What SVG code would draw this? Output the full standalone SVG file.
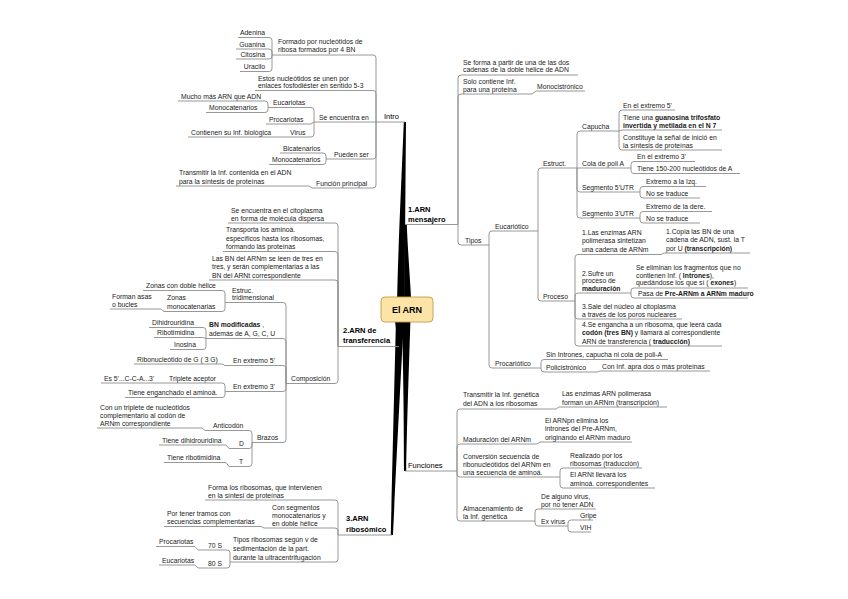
<svg xmlns="http://www.w3.org/2000/svg" width="848" height="599" viewBox="0 0 848 599">
<style>
.t{font-family:"Liberation Sans",Arial,sans-serif;font-size:6.8px;fill:#1a1a1a}
.b{font-weight:bold}
.m{font-family:"Liberation Sans",Arial,sans-serif;font-size:7.5px;fill:#000}
.u{stroke:#8c8c8c;stroke-width:0.9;fill:none}
.c{stroke:#8c8c8c;stroke-width:0.9;fill:none}
.br{fill:#000}
</style>
<rect width="848" height="599" fill="#fff"/>
<g id="connectors">
<g id="branches">
<path class="br" d="M397,305 C398,250 401.5,180 403.8,122 L406,122 C405.5,180 405,250 404.5,305 Z"/>
<path class="br" d="M404,305 C404.5,270 404.5,245 404.6,224.5 L406.8,224.5 C407.5,245 409.5,270 411.5,305 Z"/>
<path class="br" d="M394,315 C396.5,330 397.5,340 397.8,346.5 L400,346.5 C400.5,340 401.5,330 402,315 Z"/>
<path class="br" d="M396,318 C394,400 392,480 390.8,535 L393,535 C395.5,480 399.5,400 404,318 Z"/>
<path class="br" d="M402,318 C403.5,380 404,430 404,471 L406.2,471 C406.8,430 408.5,380 410.5,318 Z"/>
</g>
<path class="c" d="M458,224.5 V78 Q458,75 461,75 M458,224.5 V97 Q458,94 461,94 M458,224.5 V242 Q458,245 461,245 M532,94 L536,91"/>
<path class="c" d="M489,245 V234 Q489,231 492,231 M489,245 V365 Q489,368 492,368"/>
<path class="c" d="M538,231 V171 Q538,168 541,168 M538,231 V298 Q538,301 541,301"/>
<path class="c" d="M577,168 V134 Q577,131 580,131 M577,168 L580,168 M577,168 V189 Q577,192 580,192 M577,168 V215 Q577,218 580,218"/>
<path class="c" d="M619,131 V113 Q619,110 622,110 M619,131 L622,130 M619,131 V147 Q619,150 622,150"/>
<path class="c" d="M631,168 V164.5 Q631,161.5 634,161.5 M631,168 V170.5 Q631,173.5 634,173.5"/>
<path class="c" d="M640,192 V189.5 Q640,186.5 643,186.5 M640,192 V195 Q640,198 643,198"/>
<path class="c" d="M640,218 V214.5 Q640,211.5 643,211.5 M640,218 V220 Q640,223 643,223"/>
<path class="c" d="M575,301 V257.5 Q575,254.5 578,254.5 M575,301 V296 Q575,293 578,293 M575,301 V316 Q575,319 578,319 M575,301 V343 Q575,346 578,346"/>
<path class="c" d="M661,254.5 L664,253"/>
<path class="c" d="M631,293 V291 Q631,288 634,288 M631,293 V295 Q631,298 634,298"/>
<path class="c" d="M541,368 V362.5 Q541,359.5 544,359.5 M541,368 V369 Q541,372 544,372 M597,372 L600,371"/>
<path class="c" d="M457,471 V412 Q457,409 460,409 M457,471 V447 Q457,444 460,444 M457,471 V474 Q457,477 460,477 M457,471 V518 Q457,521 460,521"/>
<path class="c" d="M556,409 L559,407 M537,444 L540,442"/>
<path class="c" d="M560,477 V471 Q560,468 563,468 M560,477 V485 Q560,488 563,488"/>
<path class="c" d="M535,521 V512 Q535,509 538,509 M535,521 V523 Q535,526 538,526"/>
<path class="c" d="M568,526 V523 Q568,520 571,520 M568,526 V529 Q568,532 571,532"/>
<path class="c" d="M376,122 V58 Q376,55 373,55 M376,122 V93.5 Q376,90.5 373,90.5 M376,122 L373,122 M376,122 V156 Q376,159 373,159 M376,122 V185 Q376,188 373,188"/>
<path class="c" d="M272,55 V40.5 Q272,37.5 269,37.5 M272,55 V52 Q272,49 269,49 M272,55 V56 Q272,59 269,59 M272,55 V68.5 Q272,71.5 269,71.5"/>
<path class="c" d="M314,122 V110.5 Q314,107.5 311,107.5 M314,122 L311,124 M314,122 V134 Q314,137 311,137"/>
<path class="c" d="M268,107.5 V104 Q268,101 265,101 M268,107.5 V109.5 Q268,112.5 265,112.5"/>
<path class="c" d="M326,159 V156 Q326,153 323,153 M326,159 V161.5 Q326,164.5 323,164.5 M312,188 L309,186"/>
<path class="c" d="M338,346.5 V226 Q338,223 335,223 M338,346.5 V254.5 Q338,251.5 335,251.5 M338,346.5 V283 Q338,280 335,280 M338,346.5 V380.5 Q338,383.5 335,383.5"/>
<path class="c" d="M286,383.5 V305.5 Q286,302.5 283,302.5 M286,383.5 V341.5 Q286,338.5 283,338.5 M286,383.5 V368.5 Q286,365.5 283,365.5 M286,383.5 V388.5 Q286,391.5 283,391.5 M286,383.5 V439.5 Q286,442.5 283,442.5"/>
<path class="c" d="M225,302.5 V293.5 Q225,290.5 222,290.5 M225,302.5 V308.5 Q225,311.5 222,311.5 M164,311.5 L161,309"/>
<path class="c" d="M206,338.5 V330.5 Q206,327.5 203,327.5 M206,338.5 L203,337.5 M206,338.5 V346.5 Q206,349.5 203,349.5"/>
<path class="c" d="M225,365.5 L222,364 M225,391.5 V386 Q225,383 222,383 M225,391.5 V394.5 Q225,397.5 222,397.5 M162,383 L159,383"/>
<path class="c" d="M252,442.5 V433.5 Q252,430.5 249,430.5 M252,442.5 V445.5 Q252,448.5 249,448.5 M252,442.5 V463.5 Q252,466.5 249,466.5 M205,430.5 L202,428 M229,448.5 L226,445 M229,466.5 L226,462.5"/>
<path class="c" d="M338,535 V503 Q338,500 335,500 M338,535 V531 Q338,528 335,528 M338,535 V559 Q338,562 335,562 M264,528 L261,526.5"/>
<path class="c" d="M230,562 V553 Q230,550 227,550 M230,562 V565 Q230,568 227,568 M198,550 L195,546.5 M198,568 L195,565"/>
</g>

<g id="center">
<rect x="381" y="297" width="52" height="25" rx="4" fill="#fce4a6" stroke="#c59a4a" stroke-width="0.9"/>
<text x="407" y="312.5" text-anchor="middle" style="font-family:'Liberation Sans',Arial,sans-serif;font-size:9px;font-weight:bold;fill:#000">El ARN</text>
</g>

<!-- 1. ARN mensajero -->
<g id="mensajero"><text class="m b"><tspan x="408" y="211.5">1.ARN</tspan><tspan x="408" y="221.5">mensajero</tspan></text><line class="u" x1="405" y1="224.5" x2="458" y2="224.5"/></g>
<g id="seforma"><text class="t"><tspan x="463" y="64.5">Se forma a partir de una de las dos</tspan><tspan x="463" y="72">cadenas de la doble hélice de ADN</tspan></text><line class="u" x1="461" y1="75" x2="578" y2="75"/></g>
<g id="solo"><text class="t"><tspan x="463" y="83.5">Solo contiene Inf.</tspan><tspan x="463" y="91.5">para una proteína</tspan></text><line class="u" x1="461" y1="94" x2="532" y2="94"/></g>
<g id="monocis"><text class="t" x="537" y="89">Monocistrónico</text><line class="u" x1="536" y1="91" x2="585" y2="91"/></g>
<g id="tipos"><text class="t" x="465" y="242.5">Tipos</text><line class="u" x1="461" y1="245" x2="489" y2="245"/></g>
<g id="eucariotico"><text class="t" x="495" y="228.5">Eucariótico</text><line class="u" x1="492" y1="231" x2="538" y2="231"/></g>
<g id="procariotico"><text class="t" x="495" y="365.5">Procariótico</text><line class="u" x1="492" y1="368" x2="541" y2="368"/></g>
<g id="estruct"><text class="t" x="543" y="165.5">Estruct.</text><line class="u" x1="541" y1="168" x2="577" y2="168"/></g>
<g id="proceso"><text class="t" x="543" y="298.5">Proceso</text><line class="u" x1="541" y1="301" x2="575" y2="301"/></g>
<g id="capucha"><text class="t" x="582" y="128.5">Capucha</text><line class="u" x1="580" y1="131" x2="619" y2="131"/></g>
<g id="cola"><text class="t" x="582" y="166">Cola de poli A</text><line class="u" x1="580" y1="168" x2="631" y2="168"/></g>
<g id="seg5"><text class="t" x="582" y="189.5">Segmento 5'UTR</text><line class="u" x1="580" y1="192" x2="640" y2="192"/></g>
<g id="seg3"><text class="t" x="582" y="215.5">Segmento 3'UTR</text><line class="u" x1="580" y1="218" x2="640" y2="218"/></g>
<g id="ext5"><text class="t" x="623" y="107.5">En el extremo 5'</text><line class="u" x1="622" y1="110" x2="675" y2="110"/></g>
<g id="guanosina"><text class="t"><tspan x="623" y="119.5">Tiene una <tspan class="b">guanosina trifosfato</tspan></tspan><tspan x="623" y="127.5" class="b">invertida y metilada en el N 7</tspan></text><line class="u" x1="622" y1="130" x2="722" y2="130"/></g>
<g id="senal"><text class="t"><tspan x="623" y="139.5">Constituye la señal de inició en</tspan><tspan x="623" y="147.5">la síntesis de proteínas</tspan></text><line class="u" x1="622" y1="150" x2="722" y2="150"/></g>
<g id="ext3"><text class="t" x="637" y="159">En el extremo 3'</text><line class="u" x1="634" y1="161.5" x2="695" y2="161.5"/></g>
<g id="tiene150"><text class="t" x="637" y="171">Tiene 150-200 nucleótidos de A</text><line class="u" x1="634" y1="173.5" x2="740" y2="173.5"/></g>
<g id="izq"><text class="t" x="646" y="184">Extremo a la Izq.</text><line class="u" x1="643" y1="186.5" x2="706" y2="186.5"/></g>
<g id="notrad1"><text class="t" x="646" y="195.5">No se traduce</text><line class="u" x1="643" y1="198" x2="700" y2="198"/></g>
<g id="dere"><text class="t" x="646" y="209">Extremo de la dere.</text><line class="u" x1="643" y1="211.5" x2="712" y2="211.5"/></g>
<g id="notrad2"><text class="t" x="646" y="220.5">No se traduce</text><line class="u" x1="643" y1="223" x2="700" y2="223"/></g>
<g id="p1"><text class="t"><tspan x="582" y="234.5">1.Las enzimas ARN</tspan><tspan x="582" y="243">polimerasa sintetizan</tspan><tspan x="582" y="251.5">una cadena de ARNm</tspan></text><line class="u" x1="578" y1="254.5" x2="661" y2="254.5"/></g>
<g id="copia"><text class="t"><tspan x="666" y="233.5">1.Copia las BN de una</tspan><tspan x="666" y="242">cadena de ADN, sust. la T</tspan><tspan x="666" y="250.5">por U <tspan class="b">(transcripción)</tspan></tspan></text><line class="u" x1="664" y1="253" x2="750" y2="253"/></g>
<g id="p2"><text class="t"><tspan x="582" y="275.5">2.Sufre un</tspan><tspan x="582" y="283">proceso de</tspan><tspan x="582" y="290.5" class="b">maduración</tspan></text><line class="u" x1="578" y1="293" x2="631" y2="293"/></g>
<g id="eliminan"><text class="t"><tspan x="636" y="270">Se eliminan los fragmentos que no</tspan><tspan x="636" y="277.5">contienen Inf. ( <tspan class="b">Intrones</tspan>),</tspan><tspan x="636" y="285">quedándose los que sí ( <tspan class="b">exones</tspan>)</tspan></text><line class="u" x1="634" y1="288" x2="748" y2="288"/></g>
<g id="pasa"><text class="t" x="638" y="295.5">Pasa de <tspan class="b">Pre-ARNm a ARNm maduro</tspan></text><line class="u" x1="634" y1="298" x2="748" y2="298"/></g>
<g id="p3"><text class="t"><tspan x="582" y="308.5">3.Sale del núcleo al citoplasma</tspan><tspan x="582" y="316.5">a través de los poros nucleares</tspan></text><line class="u" x1="578" y1="319" x2="682" y2="319"/></g>
<g id="p4"><text class="t"><tspan x="582" y="327">4.Se engancha a un ribosoma, que leerá cada</tspan><tspan x="582" y="335" ><tspan class="b">codón (tres BN)</tspan> y llamará al correspondiente</tspan><tspan x="582" y="343.5">ARN de transferencia ( <tspan class="b">traducción)</tspan></tspan></text><line class="u" x1="578" y1="346" x2="722" y2="346"/></g>
<g id="sinintrones"><text class="t" x="546" y="357">Sin Intrones, capucha ni cola de poli-A</text><line class="u" x1="544" y1="359.5" x2="668" y2="359.5"/></g>
<g id="policis"><text class="t" x="546" y="369.5">Policistrónico</text><line class="u" x1="544" y1="372" x2="597" y2="372"/></g>
<g id="coninf"><text class="t" x="602" y="368.5">Con Inf. apra dos o más proteínas</text><line class="u" x1="600" y1="371" x2="710" y2="371"/></g>

<!-- Funciones -->
<g id="funciones"><text class="m" x="408" y="468">Funciones</text><line class="u" x1="405" y1="471" x2="457" y2="471"/></g>
<g id="f1"><text class="t"><tspan x="463" y="397">Transmitir la Inf. genética</tspan><tspan x="463" y="406">del ADN a los ribosomas</tspan></text><line class="u" x1="460" y1="409" x2="556" y2="409"/></g>
<g id="f2"><text class="t"><tspan x="562" y="395.5">Las enzimas ARN polimerasa</tspan><tspan x="562" y="404.5">forman un ARNm (transcripción)</tspan></text><line class="u" x1="559" y1="407" x2="667" y2="407"/></g>
<g id="f3"><text class="t" x="463" y="441.5">Maduración del ARNm</text><line class="u" x1="460" y1="444" x2="537" y2="444"/></g>
<g id="f4"><text class="t"><tspan x="545" y="422.5">El ARNpn elimina los</tspan><tspan x="545" y="431">intrones del Pre-ARNm,</tspan><tspan x="545" y="439.5">originando el ARNm maduro</tspan></text><line class="u" x1="540" y1="442" x2="632" y2="442"/></g>
<g id="f5"><text class="t"><tspan x="463" y="458.5">Conversión secuencia de</tspan><tspan x="463" y="466.5">ribonucleótidos del ARNm en</tspan><tspan x="463" y="474.5">una secuencia de aminoá.</tspan></text><line class="u" x1="460" y1="477" x2="560" y2="477"/></g>
<g id="f6"><text class="t"><tspan x="570" y="457.5">Realizado por los</tspan><tspan x="570" y="465.5">ribosomas (traducción)</tspan></text><line class="u" x1="563" y1="468" x2="642" y2="468"/></g>
<g id="f7"><text class="t"><tspan x="570" y="477">El ARNt llevará los</tspan><tspan x="570" y="485.5">aminoá. correspondientes</tspan></text><line class="u" x1="563" y1="488" x2="655" y2="488"/></g>
<g id="f8"><text class="t"><tspan x="463" y="510.5">Almacenamiento de</tspan><tspan x="463" y="518.5">la Inf. genética</tspan></text><line class="u" x1="460" y1="521" x2="535" y2="521"/></g>
<g id="f9"><text class="t"><tspan x="541" y="499">De alguno virus,</tspan><tspan x="541" y="506.5">por no tener ADN</tspan></text><line class="u" x1="538" y1="509" x2="596" y2="509"/></g>
<g id="f10"><text class="t" x="541" y="523.5">Ex virus</text><line class="u" x1="538" y1="526" x2="568" y2="526"/></g>
<g id="f11"><text class="t" x="580" y="518">Gripe</text><line class="u" x1="571" y1="520" x2="593" y2="520"/></g>
<g id="f12"><text class="t" x="580" y="530">VIH</text><line class="u" x1="571" y1="532" x2="591" y2="532"/></g>

<!-- Intro -->
<g id="intro"><text class="m" x="384" y="118.5">Intro</text><line class="u" x1="376" y1="122" x2="405" y2="122"/></g>
<g id="formado"><text class="t"><tspan x="278" y="44">Formado por nucleótidos de</tspan><tspan x="278" y="52">ribosa formados por 4 BN</tspan></text><line class="u" x1="272" y1="55" x2="373" y2="55"/></g>
<g id="adenina"><text class="t" x="265" y="35" text-anchor="end">Adenina</text><line class="u" x1="238" y1="37.5" x2="269" y2="37.5"/></g>
<g id="guanina"><text class="t" x="265" y="46.5" text-anchor="end">Guanina</text><line class="u" x1="236" y1="49" x2="269" y2="49"/></g>
<g id="citosina"><text class="t" x="265" y="56.5" text-anchor="end">Citosina</text><line class="u" x1="236" y1="59" x2="269" y2="59"/></g>
<g id="uracilo"><text class="t" x="265" y="69" text-anchor="end">Uracilo</text><line class="u" x1="240" y1="71.5" x2="269" y2="71.5"/></g>
<g id="estos"><text class="t"><tspan x="258" y="80.5">Estos nucleótidos se unen por</tspan><tspan x="258" y="88">enlaces fosfodiéster en sentido 5-3</tspan></text><line class="u" x1="255" y1="90.5" x2="373" y2="90.5"/></g>
<g id="seencuentra"><text class="t" x="319" y="120">Se encuentra en</text><line class="u" x1="314" y1="122" x2="373" y2="122"/></g>
<g id="eucariotas"><text class="t" x="273" y="105">Eucariotas</text><line class="u" x1="268" y1="107.5" x2="311" y2="107.5"/></g>
<g id="mucho"><text class="t" x="181" y="98.5">Mucho más ARN que ADN</text><line class="u" x1="178" y1="101" x2="265" y2="101"/></g>
<g id="monocat1"><text class="t" x="209" y="110">Monocatenarios</text><line class="u" x1="206" y1="112.5" x2="265" y2="112.5"/></g>
<g id="procariotas"><text class="t" x="269" y="121.5">Procariotas</text><line class="u" x1="266" y1="124" x2="311" y2="124"/></g>
<g id="virus"><text class="t" x="290" y="134.5">Virus</text><line class="u" x1="276" y1="137" x2="311" y2="137"/></g>
<g id="contienen"><text class="t" x="191" y="134.5">Contienen su Inf. biológica</text><line class="u" x1="188" y1="137" x2="276" y2="137"/></g>
<g id="pueden"><text class="t" x="334" y="156.5">Pueden ser</text><line class="u" x1="326" y1="159" x2="373" y2="159"/></g>
<g id="bicat"><text class="t" x="283" y="150.5">Bicatenarios</text><line class="u" x1="280" y1="153" x2="323" y2="153"/></g>
<g id="monocat2"><text class="t" x="272" y="162">Monocatenarios</text><line class="u" x1="269" y1="164.5" x2="323" y2="164.5"/></g>
<g id="funcion"><text class="t" x="316" y="185.5">Función principal</text><line class="u" x1="312" y1="188" x2="373" y2="188"/></g>
<g id="transmitir"><text class="t"><tspan x="179" y="175">Transmitir la Inf. contenida en el ADN</tspan><tspan x="179" y="183.5">para la síntesis de proteínas</tspan></text><line class="u" x1="176" y1="186" x2="309" y2="186"/></g>

<!-- 2. ARN de transferencia -->
<g id="transferencia"><text class="m b"><tspan x="343" y="332.5">2.ARN de</tspan><tspan x="343" y="343">transferencia</tspan></text><line class="u" x1="338" y1="346.5" x2="399" y2="346.5"/></g>
<g id="t1"><text class="t"><tspan x="231" y="212.5">Se encuentra en el citoplasma</tspan><tspan x="231" y="220.5">en forma de molécula dispersa</tspan></text><line class="u" x1="228" y1="223" x2="335" y2="223"/></g>
<g id="t2"><text class="t"><tspan x="226" y="231.5">Transporta los aminoá.</tspan><tspan x="226" y="240.5">específicos hasta los ribosomas,</tspan><tspan x="226" y="249">formando las proteínas</tspan></text><line class="u" x1="223" y1="251.5" x2="335" y2="251.5"/></g>
<g id="t3"><text class="t"><tspan x="212" y="260.5">Las BN del ARNm se leen de tres en</tspan><tspan x="212" y="268.5">tres, y serán complementarias a las</tspan><tspan x="212" y="277.5">BN del ARNt correspondiente</tspan></text><line class="u" x1="209" y1="280" x2="335" y2="280"/></g>
<g id="composicion"><text class="t" x="291" y="381">Composición</text><line class="u" x1="286" y1="383.5" x2="335" y2="383.5"/></g>
<g id="estruc"><text class="t"><tspan x="232" y="292.5">Estruc.</tspan><tspan x="232" y="300">tridimensional</tspan></text><line class="u" x1="225" y1="302.5" x2="283" y2="302.5"/></g>
<g id="zonasdoble"><text class="t" x="146" y="288">Zonas con doble hélice</text><line class="u" x1="143" y1="290.5" x2="222" y2="290.5"/></g>
<g id="zonasmono"><text class="t"><tspan x="167" y="299.5">Zonas</tspan><tspan x="167" y="309">monocatenarias</tspan></text><line class="u" x1="164" y1="311.5" x2="222" y2="311.5"/></g>
<g id="forman"><text class="t"><tspan x="112" y="298.5">Forman asas</tspan><tspan x="112" y="306.5">o bucles</tspan></text><line class="u" x1="110" y1="309" x2="161" y2="309"/></g>
<g id="bnmod"><text class="t"><tspan x="209" y="327"><tspan class="b">BN modificadas</tspan> ,</tspan><tspan x="209" y="336">además de A, G, C, U</tspan></text><line class="u" x1="206" y1="338.5" x2="283" y2="338.5"/></g>
<g id="dihidro"><text class="t" x="152" y="325">Dihidrouridina</text><line class="u" x1="149" y1="327.5" x2="203" y2="327.5"/></g>
<g id="ribotim"><text class="t" x="157" y="335">Ribotimidina</text><line class="u" x1="154" y1="337.5" x2="203" y2="337.5"/></g>
<g id="inosina"><text class="t" x="174" y="347">Inosina</text><line class="u" x1="170" y1="349.5" x2="203" y2="349.5"/></g>
<g id="ext5p"><text class="t" x="233" y="363">En extremo 5'</text><line class="u" x1="225" y1="365.5" x2="283" y2="365.5"/></g>
<g id="ribonuc"><text class="t" x="137" y="361.5">Ribonucleótido de G ( 3 G)</text><line class="u" x1="134" y1="364" x2="222" y2="364"/></g>
<g id="ext3p"><text class="t" x="233" y="389">En extremo 3'</text><line class="u" x1="225" y1="391.5" x2="283" y2="391.5"/></g>
<g id="triplete"><text class="t" x="169" y="380.5">Triplete aceptor</text><line class="u" x1="162" y1="383" x2="222" y2="383"/></g>
<g id="es5"><text class="t" x="104" y="380.5">Es 5'...C-C-A...3'</text><line class="u" x1="101" y1="383" x2="159" y2="383"/></g>
<g id="enganchado"><text class="t" x="128" y="395">Tiene enganchado el aminoá.</text><line class="u" x1="125" y1="397.5" x2="222" y2="397.5"/></g>
<g id="brazos"><text class="t" x="257" y="440">Brazos</text><line class="u" x1="252" y1="442.5" x2="283" y2="442.5"/></g>
<g id="anticodon"><text class="t" x="213" y="428">Anticodón</text><line class="u" x1="205" y1="430.5" x2="249" y2="430.5"/></g>
<g id="contriplete"><text class="t"><tspan x="100" y="409.5">Con un triplete de nucleótidos</tspan><tspan x="100" y="417.5">complementario al codón de</tspan><tspan x="100" y="425.5">ARNm correspondiente</tspan></text><line class="u" x1="97" y1="428" x2="202" y2="428"/></g>
<g id="d"><text class="t" x="239" y="446">D</text><line class="u" x1="229" y1="448.5" x2="249" y2="448.5"/></g>
<g id="tdihidro"><text class="t" x="162" y="442.5">Tiene dihidrouridina</text><line class="u" x1="159" y1="445" x2="226" y2="445"/></g>
<g id="tt"><text class="t" x="239" y="464">T</text><line class="u" x1="229" y1="466.5" x2="249" y2="466.5"/></g>
<g id="tribo"><text class="t" x="167" y="460">Tiene ribotimidina</text><line class="u" x1="164" y1="462.5" x2="226" y2="462.5"/></g>

<!-- 3. ARN ribosómico -->
<g id="ribosomico"><text class="m b"><tspan x="346" y="521">3.ARN</tspan><tspan x="346" y="532">ribosómico</tspan></text><line class="u" x1="338" y1="535" x2="392" y2="535"/></g>
<g id="r1"><text class="t"><tspan x="208" y="489.5">Forma los ribosomas, que intervienen</tspan><tspan x="208" y="497.5">en la síntesi de proteínas</tspan></text><line class="u" x1="205" y1="500" x2="335" y2="500"/></g>
<g id="r2"><text class="t"><tspan x="272" y="509.5">Con segmentos</tspan><tspan x="272" y="517.5">monocatenarios y</tspan><tspan x="272" y="525.5">en doble hélice</tspan></text><line class="u" x1="264" y1="528" x2="335" y2="528"/></g>
<g id="r3"><text class="t"><tspan x="167" y="515.5">Por tener tramos con</tspan><tspan x="167" y="524">secuencias complementarias</tspan></text><line class="u" x1="164" y1="526.5" x2="261" y2="526.5"/></g>
<g id="r4"><text class="t"><tspan x="233" y="541.5">Tipos ribosomas según v de</tspan><tspan x="233" y="550.5">sedimentación de la part.</tspan><tspan x="233" y="559.5">durante la ultracentrifugación</tspan></text><line class="u" x1="230" y1="562" x2="335" y2="562"/></g>
<g id="s70"><text class="t" x="222" y="548" text-anchor="end">70 S</text><line class="u" x1="198" y1="550" x2="227" y2="550"/></g>
<g id="procar2"><text class="t" x="159" y="544">Procariotas</text><line class="u" x1="156" y1="546.5" x2="195" y2="546.5"/></g>
<g id="s80"><text class="t" x="222" y="566" text-anchor="end">80 S</text><line class="u" x1="198" y1="568" x2="227" y2="568"/></g>
<g id="eucar2"><text class="t" x="162" y="562.5">Eucariotas</text><line class="u" x1="159" y1="565" x2="195" y2="565"/></g>
</svg>
